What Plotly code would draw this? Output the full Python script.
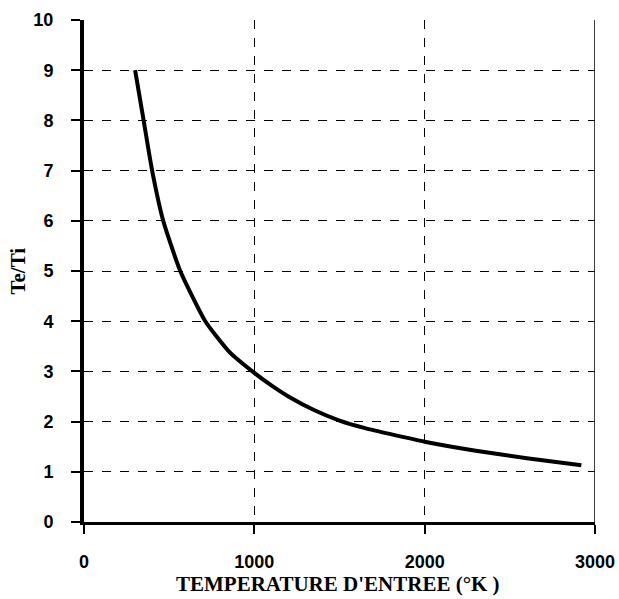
import plotly.graph_objects as go

# Inlet temperature (K) and temperature ratio Te/Ti
temperature_k = [300, 350, 400, 465, 565, 712, 850, 1000, 1100, 1200, 1350,
                 1500, 1650, 1800, 2000, 2300, 2600, 2920]
te_over_ti = [9.0, 8.0, 7.0, 6.0, 5.0, 4.0, 3.4, 2.97, 2.72, 2.5, 2.23,
              2.02, 1.87, 1.75, 1.6, 1.42, 1.27, 1.13]

x_ticks = [0, 1000, 2000, 3000]
y_ticks = list(range(0, 11))

x_title = "TEMPERATURE D'ENTREE (°K )"
y_title = "Te/Ti"

tick_font = dict(family="Liberation Sans", size=18, color="black", weight="bold")
title_font = dict(family="Liberation Serif", size=21, color="black", weight="bold")

fig = go.Figure()
fig.add_trace(go.Scatter(
    x=temperature_k, y=te_over_ti, mode="lines",
    line=dict(color="black", width=4, shape="spline", smoothing=0.5),
    hoverinfo="skip", showlegend=False,
))

# right-hand frame edge
fig.add_shape(type="line", xref="x", yref="y", x0=3000, x1=3000, y0=0, y1=10,
              line=dict(color="black", width=1.5), layer="above")

fig.add_annotation(text=x_title, xref="paper", yref="paper", x=0.497, y=-0.123,
                   xanchor="center", yanchor="middle", showarrow=False,
                   font=title_font)
fig.add_annotation(text=y_title, xref="paper", yref="paper", x=-0.13, y=0.5,
                   xanchor="center", yanchor="middle", showarrow=False,
                   textangle=-90, font=title_font)

fig.update_layout(
    width=619, height=599,
    margin=dict(l=84, r=24, t=20, b=77),
    paper_bgcolor="white", plot_bgcolor="white",
    xaxis=dict(
        range=[0, 3000], tickvals=x_ticks, ticktext=[str(v) for v in x_ticks],
        showgrid=True, gridcolor="black", gridwidth=1, griddash="dash",
        showline=True, linecolor="black", linewidth=3,
        ticks="outside", ticklen=9, tickwidth=2, tickcolor="black",
        tickfont=tick_font, ticklabelstandoff=12, automargin=False,
        zeroline=False,
    ),
    yaxis=dict(
        range=[0, 10], tickvals=y_ticks,
        showgrid=True, gridcolor="black", gridwidth=1, griddash="dash",
        showline=True, linecolor="black", linewidth=4,
        ticks="outside", ticklen=9, tickwidth=2, tickcolor="black",
        tickfont=tick_font, ticklabelstandoff=14, automargin=False,
        zeroline=False,
    ),
)

fig.write_html("out.html")
